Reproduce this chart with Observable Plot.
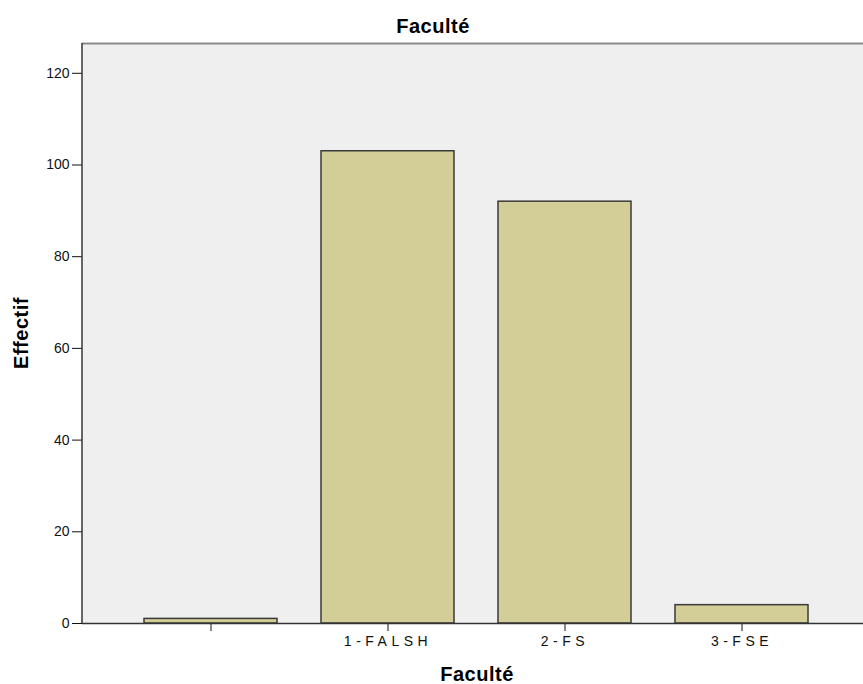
<!DOCTYPE html>
<html>
<head>
<meta charset="utf-8">
<script src="https://cdn.jsdelivr.net/npm/d3@7"></script>
<script src="https://cdn.jsdelivr.net/npm/@observablehq/plot@0.6"></script>
<style>
  html, body { margin: 0; padding: 0; background: white; overflow: hidden; }
  #wrap { position: relative; width: 863px; height: 684px; }
  #wrap svg { overflow: hidden; display: block; }
  .lbl { position: absolute; font-family: "Liberation Sans", Arial, sans-serif; font-weight: bold; font-size: 20px; letter-spacing: 0.5px; color: #000; white-space: nowrap; line-height: 1; }
  [aria-label^="x-axis"] text { letter-spacing: 4.5px; }
</style>
</head>
<body>
<div id="wrap"></div>
<script>
const categories = ["", "1-FALSH", "2-FS", "3-FSE"];
const counts = [1, 103, 92, 4];
const yTicks = [0, 20, 40, 60, 80, 100, 120];
const yMax = 126.5;
const title = "Faculté";
const xTitle = "Faculté";
const yTitle = "Effectif";

const data = categories.map((c, i) => ({cat: c, n: counts[i]}));

const chart = Plot.plot({
  width: 863,
  height: 684,
  marginLeft: 82,
  marginRight: 0,
  marginTop: 43,
  marginBottom: 61,
  style: {fontFamily: "'Liberation Sans', Arial, sans-serif", fontSize: "14px", color: "#111", background: "white"},
  x: {domain: categories, range: [82, 870], paddingInner: 0.25, paddingOuter: 0.35, tickSize: 8, tickPadding: 5, label: null},
  y: {domain: [0, yMax], ticks: yTicks, tickSize: 10, tickPadding: 3, label: null, line: false},
  marks: [
    Plot.frame({fill: "#efefef", stroke: "none"}),
    Plot.barY(data, {x: "cat", y: "n", fill: "#d3ce97", stroke: "#3a3a3a", strokeWidth: 1.5}),
    Plot.ruleY([yMax], {stroke: "#8a8a8a", strokeWidth: 2}),
    Plot.ruleY([0], {stroke: "#333", strokeWidth: 1.5})
  ]
});
const wrap = document.getElementById("wrap");
wrap.appendChild(chart);

// left axis line along the frame edge, positioned with the y scale
const ys = chart.scale("y");
const svgNS = "http://www.w3.org/2000/svg";
const ln = document.createElementNS(svgNS, "line");
ln.setAttribute("x1", 82); ln.setAttribute("x2", 82);
ln.setAttribute("y1", ys.apply(0)); ln.setAttribute("y2", ys.apply(yMax));
ln.setAttribute("stroke", "#333"); ln.setAttribute("stroke-width", 1.5);
chart.appendChild(ln);

function addLabel(text, css) {
  const d = document.createElement("div");
  d.className = "lbl";
  d.textContent = text;
  Object.assign(d.style, css);
  wrap.appendChild(d);
  return d;
}
addLabel(title, {left: "0px", width: "866px", textAlign: "center", top: "16px"});
addLabel(xTitle, {left: "82px", width: "790px", textAlign: "center", top: "664px"});
addLabel(yTitle, {left: "21px", top: "333px", transform: "translate(-50%,-50%) rotate(-90deg)"});
</script>
</body>
</html>
